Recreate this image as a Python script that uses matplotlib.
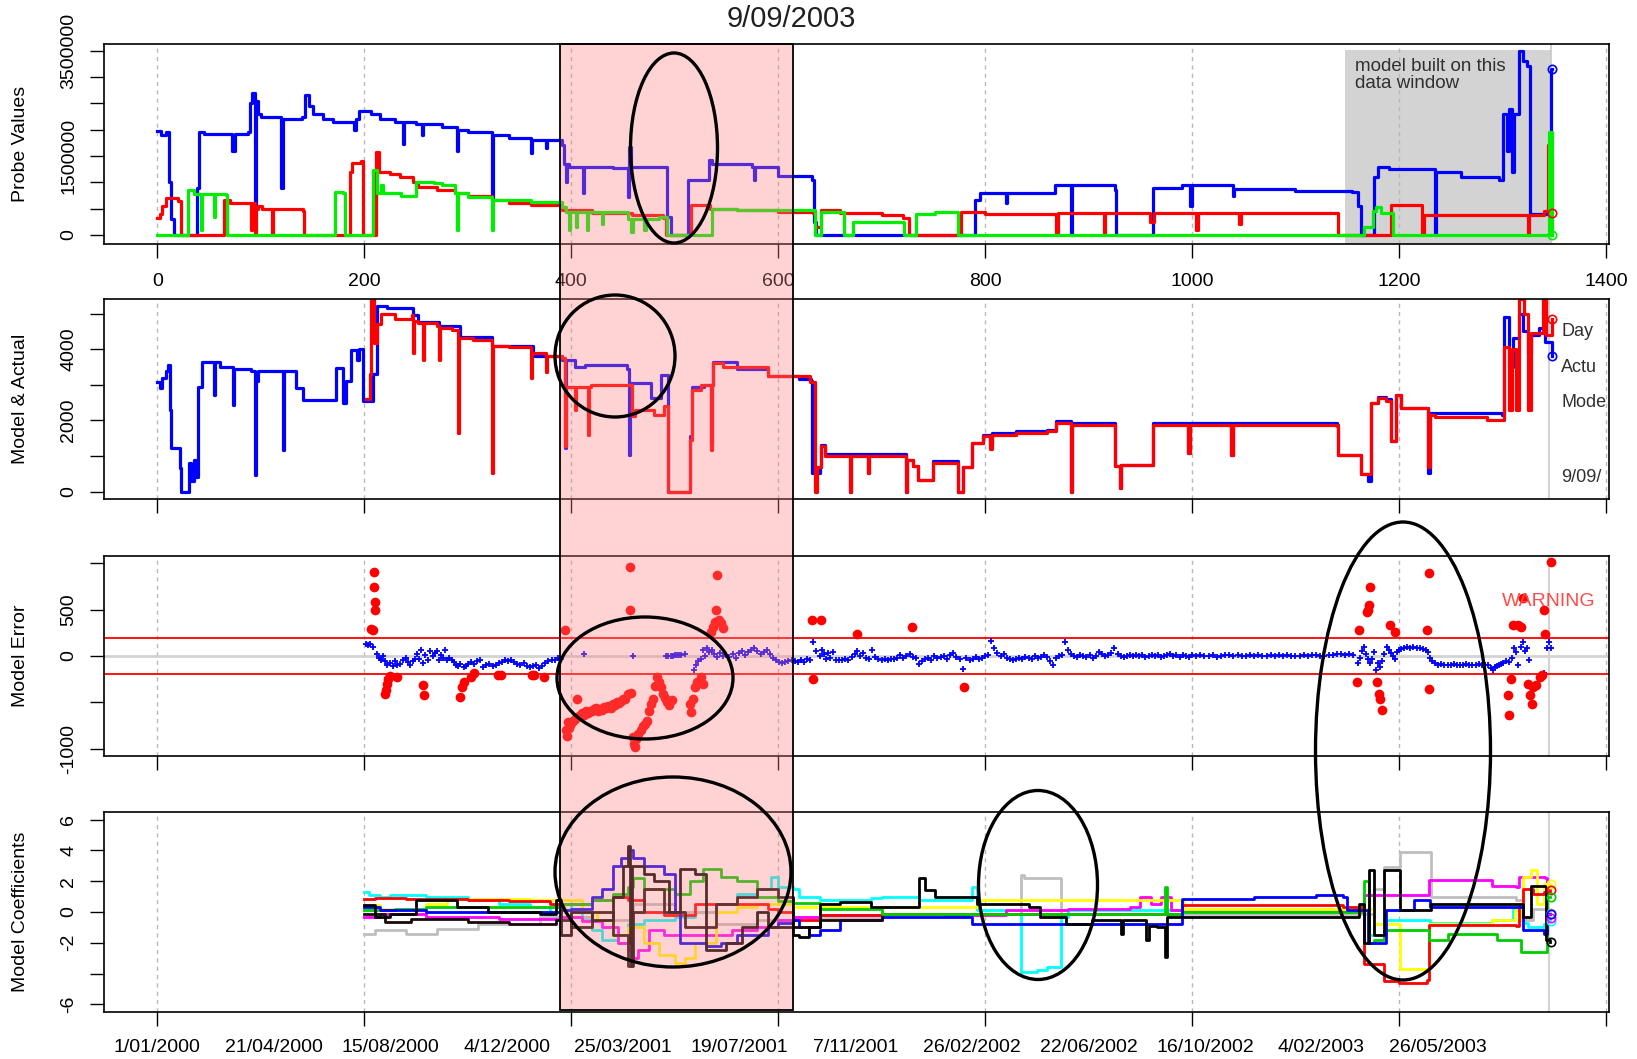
import matplotlib
matplotlib.use("Agg")
import matplotlib.pyplot as plt
from matplotlib.patches import Rectangle, Ellipse

plt.rcParams['font.family'] = ['Liberation Sans', 'DejaVu Sans']

# ---------------- data ----------------
title = "9/09/2003"
xticks_top = [0, 200, 400, 600, 800, 1000, 1200, 1400]
date_pos = [0, 112.5, 225, 337.5, 450, 562.5, 675, 787.5, 900, 1012.5, 1125, 1237.5]
date_labels = ["1/01/2000", "21/04/2000", "15/08/2000", "4/12/2000", "25/03/2001", "19/07/2001",
               "7/11/2001", "26/02/2002", "22/06/2002", "16/10/2002", "4/02/2003", "26/05/2003"]
window_shade = (389, 614)         # red shaded period (day index)
model_window = (1148, 1347, 3.52e6)  # grey "model built" window

# Panel 1: probe values (steps)
p1_blue = [(0,1.97e6),(4,1.90e6),(8,1.95e6),(11,1.0e6),(13,0.3e6),(16,0.0),(38,0.9e6),(40,1.95e6),(45,1.92e6),
           (72,1.6e6),(75,1.92e6),(88,1.95e6),(90,2.5e6),(92,2.7e6),(94,0.55e6),(95,2.55e6),(97,2.3e6),(100,2.25e6),
           (120,0.9e6),(121,2.2e6),(140,2.25e6),(143,2.65e6),(147,2.45e6),(150,2.3e6),(160,2.2e6),(170,2.15e6),
           (190,2.0e6),(192,2.2e6),(195,2.35e6),(207,2.3e6),(215,2.2e6),(230,2.15e6),(237,1.72e6),(238,2.15e6),
           (250,2.1e6),(256,1.9e6),(257,2.1e6),(275,2.05e6),(290,1.6e6),(291,2.0e6),(300,1.95e6),(323,0.66e6),
           (324,1.9e6),(340,1.85e6),(361,1.55e6),(362,1.8e6),(376,1.65e6),(377,1.8e6),(391,1.7e6),(393,1.35e6),
           (395,1.0e6),(396,1.35e6),(398,1.3e6),(411,0.8e6),(412,1.3e6),(440,1.28e6),(455,0.72e6),(456,1.67e6),
           (458,1.3e6),(493,0.34e6),(496,0.0),(513,1.04e6),(533,1.42e6),(536,1.35e6),(575,1.3e6),(577,1.05e6),
           (578,1.3e6),(600,1.12e6),(633,1.05e6),(635,0.25e6),(637,0.0),(787,0.0),(790,0.66e6),(795,0.8e6),
           (820,0.6e6),(821,0.8e6),(868,0.95e6),(883,0.0),(884,0.95e6),(926,0.85e6),(927,0.0),(959,0.0),
           (962,0.89e6),(990,0.95e6),(998,0.55e6),(1000,0.95e6),(1040,0.75e6),(1041,0.87e6),(1100,0.83e6),
           (1155,0.82e6),(1160,0.55e6),(1163,0.0),(1173,0.0),(1176,1.1e6),(1180,1.3e6),(1190,1.25e6),
           (1235,0.0),(1236,1.2e6),(1260,1.1e6),(1297,1.04e6),(1301,2.3e6),(1304,1.6e6),(1306,2.4e6),
           (1309,1.2e6),(1311,2.3e6),(1316,3.5e6),(1320,3.3e6),(1324,3.2e6),(1327,0.4e6),(1345,0.4e6),
           (1347,3.16e6),(1348,3.16e6)]
p1_red = [(0,0.32e6),(3,0.4e6),(5,0.55e6),(8,0.7e6),(20,0.65e6),(23,0.0),(63,0.0),(64,0.66e6),(70,0.6e6),
          (91,0.1e6),(92,0.6e6),(94,0.0),(95,0.5e6),(97,0.55e6),(101,0.5e6),(111,0.0),(112,0.5e6),(141,0.45e6),
          (142,0.0),(186,1.2e6),(188,1.36e6),(197,1.4e6),(199,0.0),(210,0.0),(211,1.58e6),(214,1.2e6),
          (225,1.15e6),(235,1.1e6),(247,1.0e6),(252,0.92e6),(270,0.85e6),(288,0.8e6),(300,0.75e6),
          (323,0.66e6),(340,0.6e6),(361,0.57e6),(391,0.47e6),(420,0.42e6),(459,0.38e6),(489,0.32e6),
          (492,0.0),(515,0.0),(516,0.57e6),(534,0.5e6),(560,0.47e6),(600,0.44e6),(634,0.42e6),(636,0.16e6),
          (641,0.47e6),(660,0.42e6),(700,0.38e6),(721,0.32e6),(726,0.0),(776,0.0),(777,0.44e6),(800,0.4e6),
          (869,0.0),(870,0.42e6),(915,0.0),(916,0.42e6),(959,0.25e6),(963,0.42e6),(1004,0.1e6),(1006,0.42e6),
          (1045,0.2e6),(1047,0.42e6),(1140,0.41e6),(1141,0.0),(1190,0.0),(1192,0.57e6),(1222,0.0),
          (1224,0.38e6),(1325,0.0),(1326,0.38e6),(1340,0.45e6),(1344,1.7e6),(1346,1.5e6),(1348,0.41e6)]
p1_green = [(0,0.0),(28,0.0),(30,0.85e6),(35,0.78e6),(42,0.1e6),(43,0.78e6),(55,0.35e6),(56,0.78e6),
            (66,0.76e6),(67,0.0),(169,0.0),(172,0.82e6),(179,0.8e6),(181,0.0),(206,0.0),(208,1.23e6),
            (212,0.79e6),(216,0.95e6),(218,0.8e6),(236,0.75e6),(250,1.0e6),(267,0.98e6),(275,0.95e6),
            (288,0.79e6),(290,0.1e6),(291,0.79e6),(300,0.72e6),(323,0.1e6),(324,0.66e6),(361,0.63e6),
            (391,0.54e6),(395,0.44e6),(398,0.1e6),(399,0.44e6),(405,0.15e6),(406,0.44e6),(415,0.1e6),
            (416,0.44e6),(430,0.2e6),(431,0.44e6),(455,0.3e6),(458,0.05e6),(460,0.3e6),(470,0.1e6),
            (472,0.3e6),(485,0.35e6),(493,0.0),(535,0.0),(536,0.5e6),(560,0.47e6),(634,0.47e6),(636,0.0),
            (641,0.44e6),(664,0.0),(672,0.25e6),(720,0.25e6),(722,0.0),(733,0.4e6),(752,0.44e6),(773,0.44e6),
            (774,0.0),(1163,0.0),(1166,0.16e6),(1175,0.45e6),(1178,0.54e6),(1183,0.41e6),(1193,0.41e6),
            (1194,0.0),(1343,0.0),(1345,1.96e6),(1348,0.0)]

# Panel 2: model & actual
p2_actual = [(0,3090),(3,2900),(5,3200),(8,3400),(10,3560),(12,2300),(13,1220),(20,1220),(22,660),(23,0),
             (30,0),(31,800),(33,300),(35,900),(37,400),(39,2950),(43,3650),(55,2700),(56,3650),(61,3510),
             (73,2440),(74,3450),(91,3400),(94,476),(95,3100),(97,3400),(121,1180),(122,3400),(134,2900),
             (141,2580),(172,2580),(173,3470),(179,2500),(182,3100),(187,3980),(193,3700),(195,4000),
             (199,2530),(207,2530),(208,3300),(212,5200),(222,5150),(247,4950),(252,4750),(272,4650),
             (293,4350),(323,4100),(363,3800),(391,3700),(394,1220),(395,3700),(404,3500),(413,3560),
             (454,3450),(456,1040),(457,3050),(477,2620),(487,3280),(494,0),(514,0),(515,1550),(517,2950),
             (528,3000),(535,1320),(536,3000),(537,3650),(560,3450),(590,3250),(620,3150),(632,3100),
             (633,520),(640,700),(641,1300),(645,1050),(669,0),(670,1050),(687,520),(688,1050),(721,1050),
             (724,0),(725,900),(730,710),(735,336),(750,850),(770,850),(774,0),(779,700),(787,1360),
             (798,1600),(805,1300),(807,1650),(830,1690),(860,1740),(869,1970),(883,0),(884,1920),
             (926,710),(930,100),(931,760),(959,760),(962,1920),(996,1080),(998,1920),(1038,1040),
             (1040,1920),(1140,1860),(1141,1040),(1163,500),(1170,300),(1173,2480),(1180,2650),
             (1187,2600),(1192,1410),(1197,2700),(1202,2350),(1228,520),(1230,2200),(1235,2200),
             (1300,2150),(1302,4910),(1306,3500),(1310,4300),(1316,5000),(1320,4500),(1325,3900),
             (1328,4400),(1335,4600),(1341,4200),(1348,3810)]
p2_model = [(202,2600),(206,3300),(207,5400),(209,4170),(212,4700),(216,5000),(230,4850),(246,4950),
            (247,3900),(248,4800),(252,4730),(257,3700),(258,4730),(270,4650),(272,3700),(273,4600),
            (285,4550),(291,1640),(292,4300),(305,4260),(323,520),(324,4100),(340,4050),(361,3180),
            (362,3900),(376,3350),(377,3800),(391,3740),(394,1270),(395,2950),(404,2300),(405,2950),
            (416,1600),(417,2950),(419,3000),(459,2110),(462,2300),(480,2150),(490,2400),(494,0),(514,0),
            (515,1460),(517,2860),(525,3000),(535,1180),(536,3000),(537,3600),(547,3500),(590,3250),
            (631,3090),(636,0),(638,700),(641,1270),(645,990),(669,0),(670,990),(687,520),(688,990),
            (721,990),(724,0),(725,900),(730,710),(735,336),(750,800),(770,800),(774,0),(779,700),
            (787,1360),(798,1550),(805,1200),(807,1600),(830,1650),(860,1700),(869,1920),(883,0),
            (884,1880),(926,710),(930,100),(931,760),(959,760),(962,1880),(996,1080),(998,1880),
            (1038,1040),(1040,1880),(1140,1830),(1141,1040),(1163,500),(1173,2480),(1180,2620),
            (1187,2550),(1192,1410),(1197,2700),(1202,2350),(1228,700),(1230,2150),(1235,2100),
            (1285,2000),(1300,2000),(1302,4070),(1306,2300),(1309,4000),(1313,2300),(1316,5400),
            (1321,5000),(1325,2300),(1328,4450),(1337,4450),(1339,5400),(1342,4400),(1348,4840)]
p2_side_text = [("Day", 4482), ("Actu", 3473), ("Mode", 2493), ("9/09/", 392)]

# Panel 3: model error
err_limit = 193
err_ok = [(202,130),(204,120),(206,125),(208,100),(212,20),(214,-20),(216,-40),(218,0),(220,-60),(222,-100),
          (225,-80),(228,-110),(230,-60),(232,-100),(235,-90),(237,-40),(240,-20),(242,-70),(244,-100),
          (247,-60),(249,-30),(251,20),(253,-30),(255,60),(257,-80),(259,10),(262,-40),(264,50),(266,0),
          (268,30),(270,50),(272,-40),(274,10),(276,-20),(278,60),(280,-50),(282,-20),(285,-40),(287,-70),
          (289,-100),(291,-110),(293,-90),(296,-120),(298,-110),(300,-90),(303,-70),(306,-90),(309,-60),
          (312,-50),(315,-120),(318,-100),(321,-90),(324,-110),(327,-100),(330,-80),(333,-70),(336,-40),
          (339,-60),(342,-50),(345,-70),(348,-90),(351,-100),(354,-80),(357,-110),(360,-120),(363,-110),
          (366,-100),(369,-130),(372,-110),(375,-80),(378,-60),(381,-50),(384,-40),(387,-20),(390,-30),
          (412,20),(460,0),(492,0),(494,0),(496,0),(498,0),(500,5),(502,5),(504,5),(506,10),(510,20),
          (519,-150),(521,-100),(523,-60),(525,-30),(527,60),(529,0),(531,80),(533,40),(536,60),(538,20),
          (541,-10),(544,30),(547,0),(550,10),(553,-10),(556,20),(559,-20),(562,30),(565,50),(568,10),
          (571,40),(574,60),(577,80),(580,50),(583,20),(586,40),(589,60),(592,20),(595,-20),(598,-50),
          (601,-70),(604,-80),(607,-70),(610,-60),(613,-50),(616,-60),(619,-70),(622,-40),(625,-70),
          (628,-30),(631,-40),(634,150),(637,50),(640,0),(642,60),(644,20),(646,-30),(648,30),(650,-20),
          (653,40),(656,-40),(659,-50),(662,-40),(665,-30),(668,-40),(671,-10),(674,20),(676,50),(679,0),
          (682,30),(685,-20),(688,-30),(691,60),(694,-10),(697,-30),(700,-40),(703,-30),(706,-40),
          (709,-35),(712,-30),(715,-20),(718,10),(721,-20),(724,0),(727,20),(730,-10),(733,-20),(736,-90),
          (739,-60),(742,-30),(745,-20),(748,-40),(751,0),(754,-20),(757,-10),(760,0),(763,-30),(766,10),
          (769,30),(772,-10),(776,-30),(779,-140),(782,-20),(785,-40),(788,-30),(791,-10),(794,-30),
          (797,-20),(800,0),(803,10),(806,160),(809,80),(812,30),(815,0),(818,20),(821,-20),(824,-30),
          (827,-40),(830,-30),(833,-20),(836,-30),(839,-10),(842,-20),(845,-30),(848,0),(851,-20),
          (854,-10),(857,10),(860,-10),(863,-60),(866,-100),(869,-20),(871,0),(874,10),(877,150),(880,60),
          (883,20),(886,0),(889,-10),(892,10),(895,0),(898,-10),(901,10),(904,-20),(907,0),(910,40),
          (913,20),(916,0),(919,10),(922,30),(925,90),(928,20),(931,0),(934,-10),(937,0),(940,10),(943,0),
          (946,10),(949,0),(952,10),(955,-10),(958,0),(961,10),(964,0),(967,10),(970,-10),(973,0),(976,10),
          (979,20),(982,0),(985,10),(988,-10),(991,5),(994,0),(997,-10),(1000,10),(1004,0),(1008,10),
          (1012,-5),(1016,0),(1020,5),(1024,-15),(1028,0),(1032,10),(1036,5),(1040,0),(1044,10),(1048,-5),
          (1052,0),(1056,5),(1060,0),(1064,10),(1068,0),(1072,-5),(1076,5),(1080,0),(1084,10),(1088,0),
          (1092,5),(1096,0),(1100,-5),(1104,0),(1108,5),(1112,0),(1116,10),(1120,5),(1124,0),(1128,-5),
          (1132,5),(1136,10),(1140,20),(1144,15),(1148,10),(1152,20),(1156,5),(1160,-80),(1162,-20),
          (1164,50),(1166,100),(1168,20),(1170,-30),(1172,-80),(1174,-30),(1176,40),(1178,-150),(1180,-80),
          (1182,-120),(1184,-60),(1186,20),(1188,100),(1190,60),(1192,30),(1194,0),(1196,-30),(1198,40),
          (1200,60),(1202,70),(1205,80),(1208,100),(1211,90),(1214,100),(1217,90),(1220,80),(1223,70),
          (1226,60),(1228,40),(1230,-20),(1232,-60),(1235,-80),(1238,-100),(1241,-90),(1244,-100),
          (1247,-95),(1250,-100),(1253,-90),(1256,-100),(1259,-95),(1262,-100),(1265,-90),(1268,-100),
          (1271,-95),(1274,-100),(1277,-90),(1280,-95),(1283,-100),(1286,-100),(1289,-130),(1291,-150),
          (1293,-120),(1295,-110),(1297,-100),(1299,-90),(1301,-80),(1303,-60),(1306,-70),(1309,-20),
          (1311,80),(1313,40),(1315,-100),(1318,100),(1320,150),(1322,50),(1324,80),(1326,-40),(1340,-180),
          (1343,80),(1345,150),(1347,80)]
err_warn = [(207,295),(208,277),(209,900),(209,745),(210,583),(210,500),(220,-407),(221,-370),(222,-300),
            (223,-250),(225,-220),(232,-225),(257,-317),(258,-420),(293,-443),(294,-335),(296,-280),
            (303,-227),(306,-190),(329,-209),(332,-209),(362,-209),(364,-209),(374,-227),(394,277),
            (395,-800),(396,-860),(397,-713),(398,-780),(399,-750),(400,-720),(402,-700),(404,-680),
            (406,-460),(408,-650),(410,-620),(412,-640),(414,-600),(416,-620),(418,-590),(420,-600),
            (422,-570),(424,-560),(426,-600),(428,-570),(430,-580),(432,-550),(434,-560),(436,-540),
            (438,-560),(440,-520),(442,-530),(444,-500),(446,-510),(448,-490),(450,-470),(452,-460),
            (455,-410),(457,961),(457,500),(458,-400),(460,-875),(461,-947),(462,-983),(463,-900),
            (465,-840),(467,-800),(469,-760),(471,-730),(473,-700),(475,-600),(477,-515),(479,-460),
            (481,-330),(483,-227),(485,-280),(487,-335),(489,-407),(491,-450),(493,-500),(495,-530),
            (497,-480),(515,-515),(516,-605),(518,-460),(520,-335),(522,-280),(525,-227),(527,-300),
            (535,259),(537,313),(539,367),(540,493),(541,871),(543,385),(545,350),(547,300),(633,385),
            (634,-245),(641,385),(676,241),(729,313),(780,-335),(1159,-281),(1161,277),(1169,475),
            (1170,493),(1171,547),(1172,745),(1179,-281),(1181,-407),(1182,-460),(1184,-587),(1191,331),
            (1196,259),(1227,277),(1229,889),(1229,-353),(1305,-425),(1306,-640),(1308,-245),(1310,331),
            (1315,331),(1318,313),(1320,619),(1325,-299),(1327,-425),(1329,-515),(1330,-335),(1332,-317),
            (1336,-227),(1338,-209),(1340,493),(1341,241),(1347,1015)]

# Panel 4: model coefficients (steps)
coef_cyan = [(200,1.3),(205,1.1),(215,1.0),(225,1.1),(260,1.0),(300,0.8),(330,0.5),(360,0.3),(380,-0.3),
             (390,0.5),(400,0.2),(410,-0.5),(420,-1.2),(430,-1.8),(445,-2.0),(455,-0.8),(470,-0.5),
             (500,-0.3),(520,0.0),(540,0.5),(560,1.2),(580,1.5),(593,2.3),(600,1.6),(614,1.5),(620,1.0),
             (640,0.8),(690,0.9),(700,1.0),(736,0.8),(780,0.8),(787,1.6),(792,0.1),(835,-3.9),(850,-3.8),
             (860,-3.6),(871,-3.6),(873,-0.3),(880,0.1),(1160,0.1),(1170,-1.5),(1176,-0.8),(1186,-0.5),
             (1230,-0.7),(1290,-0.5),(1310,0.2),(1320,-0.7),(1325,-1.0),(1340,-0.8),(1343,-0.58),(1346,-0.58)]
coef_gray = [(200,-1.4),(210,-1.2),(240,-1.4),(270,-1.1),(310,-0.76),(370,-0.3),(390,-0.3),(420,0.0),
             (440,-0.5),(460,0.5),(500,0.0),(540,-0.8),(580,-0.5),(614,-0.3),(640,-0.4),(700,-0.1),
             (835,2.4),(838,2.2),(871,2.2),(873,-0.1),(1170,-0.1),(1176,1.5),(1186,2.9),(1201,3.9),
             (1229,3.9),(1231,1.0),(1290,1.0),(1313,0.8),(1320,-0.5),(1330,0.2),(1346,-0.05)]
coef_magenta = [(200,-0.3),(215,-0.1),(250,-0.1),(260,-0.3),(300,-0.35),(330,-0.45),(380,-0.45),(390,-0.3),
                (410,-0.6),(430,-1.0),(445,-2.0),(455,-2.5),(460,-3.0),(465,-2.5),(475,-1.2),(490,-1.5),
                (540,-1.5),(555,-1.2),(580,-1.0),(600,-0.5),(614,-0.3),(640,-0.2),(700,-0.1),(760,-0.2),
                (820,0.1),(880,0.2),(940,0.3),(950,1.0),(960,0.5),(970,1.0),(980,0.1),(1161,0.1),(1166,1.1),
                (1186,1.1),(1229,2.05),(1290,1.7),(1313,1.6),(1316,2.3),(1341,2.2),(1343,-0.36),(1346,-0.36)]
coef_yellow = [(200,0.43),(215,0.2),(260,0.5),(280,0.87),(330,0.87),(360,0.76),(380,0.76),(390,0.8),
               (410,0.0),(425,-0.5),(440,-1.5),(455,-1.0),(470,-2.0),(485,-2.8),(500,-3.3),(510,-3.0),
               (520,-2.0),(540,0.0),(560,0.3),(580,0.5),(614,0.3),(640,0.3),(700,0.3),(792,0.75),(990,0.75),
               (992,0.2),(1170,0.2),(1176,-0.75),(1201,-3.7),(1227,-3.7),(1229,-0.75),(1262,-0.75),
               (1290,-0.5),(1312,0.1),(1318,-0.5),(1320,2.3),(1328,2.7),(1333,0.5),(1340,1.8),(1346,1.84)]
coef_red = [(200,0.85),(210,0.9),(240,0.85),(300,0.8),(340,0.7),(380,0.55),(390,0.5),(420,0.8),(440,1.0),
            (455,0.8),(470,0.0),(490,-0.2),(520,0.5),(560,0.5),(590,0.2),(600,0.0),(614,-0.5),(640,-0.2),
            (700,-0.1),(990,0.43),(1146,0.3),(1166,-3.4),(1186,-4.5),(1200,-4.6),(1227,-4.4),(1229,-0.87),
            (1313,-0.9),(1316,0.3),(1320,1.5),(1330,1.2),(1340,1.3),(1346,1.41)]
coef_green = [(200,0.1),(230,0.2),(260,0.3),(380,0.3),(390,0.5),(420,0.8),(440,1.2),(455,1.6),(460,2.2),
              (470,1.5),(500,1.2),(515,2.0),(527,2.8),(545,2.3),(560,2.0),(580,1.0),(600,0.7),(614,0.6),
              (640,0.2),(700,-0.1),(972,-0.1),(974,1.6),(976,-0.1),(990,0.0),(1160,0.0),(1166,2.0),
              (1171,-2.0),(1176,-1.8),(1186,-1.2),(1227,-1.2),(1229,-1.85),(1247,-1.4),(1290,-1.4),
              (1295,-1.85),(1318,-2.6),(1341,-2.6),(1343,0.97),(1346,0.97)]
coef_blue = [(200,0.3),(215,0.1),(260,0.0),(390,0.1),(400,0.2),(420,1.0),(430,1.5),(440,3.0),(448,3.5),
             (455,4.0),(460,3.5),(470,3.0),(490,2.5),(500,0.0),(505,-2.0),(520,-2.0),(530,-2.2),(545,-2.0),
             (560,-1.5),(590,-1.0),(600,-0.7),(614,-0.5),(620,-1.0),(630,-1.5),(640,-1.2),(660,-0.5),
             (700,-0.3),(787,-0.75),(990,0.87),(1060,1.0),(1120,1.1),(1146,1.0),(1150,0.1),(1170,-2.0),
             (1186,-2.0),(1187,0.1),(1202,0.1),(1215,0.75),(1228,0.75),(1230,0.3),(1313,0.3),(1320,-1.2),
             (1340,-1.4),(1343,-0.1),(1346,-0.1)]
coef_black = [(200,0.43),(210,-0.3),(225,-0.1),(250,0.76),(270,0.76),(290,0.3),(320,0.0),(370,-0.1),
              (385,0.76),(390,-1.5),(395,-1.5),(400,0.0),(420,-0.5),(440,1.0),(450,3.0),(455,4.3),(457,-2.0),
              (458,-3.5),(459,3.0),(470,2.5),(480,2.0),(495,0.0),(505,2.8),(520,2.5),(530,-2.5),(550,-2.0),
              (565,-1.0),(580,0.0),(590,-1.0),(614,-1.5),(620,-1.6),(630,-1.0),(640,0.5),(660,0.65),
              (690,0.3),(736,2.2),(742,1.4),(752,1.0),(792,0.5),(842,0.3),(853,-0.3),(878,-0.75),(903,-0.55),
              (931,-1.4),(933,-0.55),(956,-1.8),(958,-0.9),(966,-1.0),(974,-2.9),(976,-0.3),(1146,-0.3),
              (1161,0.5),(1166,-2.0),(1171,2.7),(1176,-1.5),(1186,2.7),(1199,2.7),(1201,0.1),(1229,0.1),
              (1231,0.5),(1318,0.5),(1320,-0.3),(1328,1.7),(1340,1.7),(1342,-1.8),(1346,-1.95)]
coef_black2 = [(200,-0.1),(220,-0.65),(245,-0.45),(300,-0.65),(340,-0.76),(385,-0.54),(400,-1.0),(420,0.0),
               (440,-1.5),(455,-3.5),(460,0.0),(470,1.5),(490,0.0),(510,-1.0),(540,0.5),(560,1.0),(580,1.5),
               (600,1.0),(614,-1.0),(640,-0.5),(700,-0.3)]

# ---------------- layout ----------------
W, H = 1637, 1059
fig = plt.figure(figsize=(W / 100, H / 100), dpi=100)
AX_L, AX_R = 103.5, 1609
XLIM = (-52, 1403)
panels_px = [(44, 244), (299, 499), (556, 756), (812, 1012)]
axes = [fig.add_axes([AX_L / W, 1 - b / H, (AX_R - AX_L) / W, (b - t) / H]) for t, b in panels_px]
ax1, ax2, ax3, ax4 = axes


def xy(pairs):
    return [p[0] for p in pairs], [p[1] for p in pairs]


def setup(ax, ylim, yticks, ylabels, xlab=False):
    ax.set_xlim(*XLIM)
    ax.set_ylim(*ylim)
    ax.set_xticks(xticks_top)
    ax.set_xticklabels([str(v) for v in xticks_top] if xlab else [])
    ax.set_yticks(yticks)
    ax.set_yticklabels(ylabels, rotation=90, va='center', ha='right')
    ax.tick_params(axis='x', direction='out', length=10, width=1, labelsize=14, pad=11)
    ax.tick_params(axis='y', direction='out', length=10, width=1, labelsize=14, pad=9)
    for s in ax.spines.values():
        s.set_linewidth(1.2)
    for x in xticks_top:
        ax.axvline(x, color='#b8b8b8', ls=(0, (3, 3)), lw=1, zorder=0.6)


setup(ax1, (-171000, 3627000), [i * 500000 for i in range(8)],
      ['0', '', '', '1500000', '', '', '', '3500000'], xlab=True)
setup(ax2, (-208, 5408), [0, 1000, 2000, 3000, 4000, 5000], ['0', '', '2000', '', '4000', ''])
setup(ax3, (-1080, 1077), [-1000, -500, 0, 500, 1000], ['-1000', '', '0', '500', ''])
setup(ax4, (-6.5, 6.5), [-6, -4, -2, 0, 2, 4, 6], ['-6', '', '-2', '0', '2', '4', '6'])

# ---- panel 1 ----
x0, x1, ytop = model_window
ax1.add_patch(Rectangle((x0, -171000), x1 - x0, ytop + 171000, facecolor='#d3d3d3', edgecolor='none', zorder=0.5))
ax1.axvline(x1, color='#c8c8c8', lw=1.2, zorder=0.55)
ax1.text(x0 + 10, 3.36e6, 'model built on this\ndata window', fontsize=13.5, color='#303030',
         va='top', ha='left', linespacing=1.0, zorder=3)
for pairs, col in [(p1_blue, '#0000ff'), (p1_red, '#ff0000'), (p1_green, '#00ee00')]:
    xs, ys = xy(pairs)
    ax1.plot(xs, ys, drawstyle='steps-post', color=col, lw=2.3, zorder=2)
    ax1.plot(xs[-1], ys[-1], 'o', mfc='none', mec=col, ms=6, mew=1.2, zorder=3)

# ---- panel 2 ----
ax2.axvline(1345, color='#d3d3d3', lw=1.5, zorder=0.7)
for pairs, col in [(p2_actual, '#0000ff'), (p2_model, '#ff0000')]:
    xs, ys = xy(pairs)
    ax2.plot(xs, ys, drawstyle='steps-post', color=col, lw=2.3, zorder=2)
    ax2.plot(xs[-1], ys[-1], 'o', mfc='none', mec=col, ms=6, mew=1.2, zorder=3)
for txt, yv in p2_side_text:
    ax2.text(1357, yv, txt, fontsize=13, color='#303030', va='center', ha='left', clip_on=True)

# ---- panel 3 ----
ax3.axhline(0, color='#d3d3d3', lw=2, zorder=0.7)
ax3.axvline(1345, color='#d3d3d3', lw=1.5, zorder=0.7)
ax3.axhline(err_limit, color='#ff0000', lw=1.3, zorder=1)
ax3.axhline(-err_limit, color='#ff0000', lw=1.3, zorder=1)
xs, ys = xy(err_ok)
ax3.plot(xs, ys, '+', color='#0000ff', ms=5, mew=1.3, zorder=2)
xs, ys = xy(err_warn)
ax3.plot(xs, ys, 'o', color='#ff0000', ms=7, mew=0, zorder=2)
ax3.text(1345, 583, 'WARNING', color='#ff4a4a', fontsize=14, ha='center', va='center', zorder=3)

# ---- panel 4 ----
ax4.axvline(1345, color='#d3d3d3', lw=1.5, zorder=0.7)
coef_series = [(coef_cyan, '#00ffff'), (coef_gray, '#bebebe'), (coef_magenta, '#ff00ff'),
               (coef_yellow, '#ffff00'), (coef_red, '#ff0000'), (coef_green, '#00cd00'),
               (coef_blue, '#0000ff'), (coef_black2, '#1a0a0a'), (coef_black, '#000000')]
for pairs, col in coef_series:
    xs, ys = xy(pairs)
    ax4.plot(xs, ys, drawstyle='steps-post', color=col, lw=2.0, zorder=2)
    if xs[-1] > 1340:
        ax4.plot(xs[-1] + 1, ys[-1], 'o', mfc='none', mec=col, ms=6, mew=1.2, zorder=3)

# ---- figure texts ----
def fx(d):
    return (AX_L + (d - XLIM[0]) / (XLIM[1] - XLIM[0]) * (AX_R - AX_L)) / W


fig.text(791 / W, 1 - 19 / H, title, ha='center', va='center', fontsize=21, color='#202020')
for (t, b), lab in zip(panels_px, ['Probe Values', 'Model & Actual', 'Model Error', 'Model Coefficients']):
    fig.text(21 / W, 1 - (t + b) / 2 / H, lab, rotation=90, ha='center', va='center', fontsize=14)
for d, lab in zip(date_pos, date_labels):
    fig.text(fx(d), 1 - 1047 / H, lab, ha='center', va='center', fontsize=14)

# shaded window across all panels (light pink overlay)
sx0, sx1 = fx(window_shade[0]), fx(window_shade[1])
sy0, sy1 = 1 - 1010 / H, 1 - 44 / H
fig.add_artist(Rectangle((sx0, sy0), sx1 - sx0, sy1 - sy0, transform=fig.transFigure,
                         facecolor='#ff8080', alpha=0.34, edgecolor='none', zorder=10))
fig.add_artist(Rectangle((sx0, sy0), sx1 - sx0, sy1 - sy0, transform=fig.transFigure,
                         facecolor='none', edgecolor='black', lw=1.3, zorder=11))

# hand-drawn annotation ellipses (pixel centres / sizes)
ellipses_px = [(674, 148, 87, 190), (615, 356, 120, 122), (645, 678, 176, 122),
               (1403, 751, 175, 458), (1038, 885, 119, 189), (673, 872, 236, 190)]
for cx, cy, w, h in ellipses_px:
    fig.add_artist(Ellipse((cx / W, 1 - cy / H), w / W, h / H, transform=fig.transFigure,
                           fill=False, edgecolor='black', lw=2.4, zorder=12))

fig.savefig('out.png', dpi=100)
